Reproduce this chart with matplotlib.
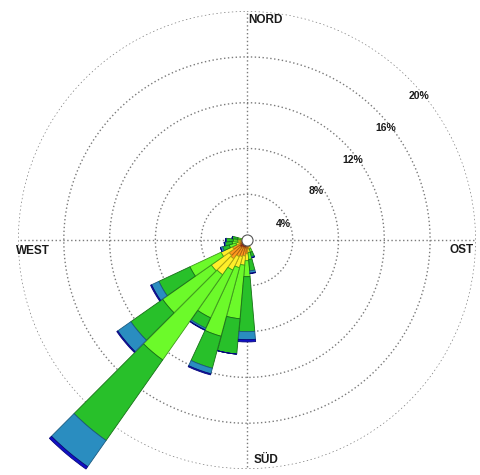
import numpy as np
import matplotlib
matplotlib.use("Agg")
import matplotlib.pyplot as plt

# Wind direction sectors (degrees, clockwise from north)
directions = [160, 170, 180, 190, 200, 210, 220, 230, 240, 250, 260, 270, 280]

# Frequency share (%) of each wind-speed class per sector
speed_lt1 = [0.3, 0.4, 0.6, 0.7, 0.7, 0.7, 0.8, 0.8, 0.6, 0.3, 0.3, 0.3, 0.2]
speed_1_2 = [0.3, 0.4, 0.6, 0.7, 0.8, 0.9, 1.2, 1.1, 0.8, 0.4, 0.3, 0.3, 0.2]
speed_2_3 = [0.2, 0.3, 0.6, 0.8, 1.0, 1.3, 1.7, 1.9, 1.1, 0.3, 0.2, 0.2, 0.1]
speed_3_4 = [0.3, 0.6, 1.4, 4.7, 6.2, 4.6, 9.1, 5.2, 3.0, 0.6, 0.5, 0.4, 0.3]
speed_4_6 = [0.4, 1.0, 4.8, 3.1, 2.9, 1.0, 8.6, 3.4, 3.0, 0.6, 0.6, 0.6, 0.5]
speed_6_8 = [0.1, 0.2, 0.7, 0.0, 0.5, 0.15, 2.8, 1.4, 0.7, 0.2, 0.1, 0.05, 0.0]
speed_gt8 = [0.0, 0.05, 0.2, 0.0, 0.1, 0.05, 0.25, 0.1, 0.1, 0.0, 0.0, 0.0, 0.0]

speed_classes = [speed_lt1, speed_1_2, speed_2_3, speed_3_4,
                 speed_4_6, speed_6_8, speed_gt8]
class_colors = ["#c8401a", "#ff9a1e", "#ffee2a", "#6cfa2a",
                "#28c02a", "#2a8dc0", "#1010c8"]
edge_colors = ["#7a2a10", "#a86010", "#a8a010", "#3c9a18",
               "#167016", "#1a5a80", "#08087a"]

ring_values = [4, 8, 12, 16, 20]
ring_labels = ["4%", "8%", "12%", "16%", "20%"]
ring_label_theta = [67, 55, 53, 51, 50]
ring_label_r = [3.5, 7.4, 11.6, 15.6, 19.6]

compass_labels = ["NORD", "OST", "SÜD", "WEST"]
compass_theta = [4.9, 92.7, 175.1, 267.1]
compass_r = [19.3, 18.8, 19.3, 18.7]

fig = plt.figure(figsize=(4.81, 4.75), dpi=100)
ax = fig.add_axes([0.0374, 0.0126, 0.952, 0.964], projection="polar")
ax.set_theta_zero_location("N")
ax.set_theta_direction(-1)
ax.set_ylim(0, 20)
ax.grid(False)
ax.spines["polar"].set_visible(False)
ax.set_xticks([])
ax.set_yticks([])
ax.patch.set_visible(False)

# dotted range rings and compass cross
grid_style = dict(color="#7a7a7a", lw=1.0, ls=(0, (1, 1.8)), zorder=1)
full = np.linspace(0, 2 * np.pi, 400)
for rv in ring_values:
    ax.plot(full, np.full_like(full, rv), **grid_style)
for ang in [0, 90, 180, 270]:
    ax.plot([np.radians(ang)] * 2, [0, 20], **grid_style)

# stacked sector bars
theta = np.radians(directions)
width = np.radians(9.8)
bottom = np.zeros(len(directions))
for vals, fc, ec in zip(speed_classes, class_colors, edge_colors):
    vals = np.asarray(vals, dtype=float)
    bars = ax.bar(theta, vals, width=width, bottom=bottom, color=fc,
                  edgecolor=ec, linewidth=0.6, zorder=3)
    for b in bars:
        b.set_clip_on(False)
    bottom += vals

# calm centre marker
ax.plot([0], [0], "o", ms=8, mfc="white", mec="#555555", mew=0.8, zorder=5,
        clip_on=False)

lab_font = dict(family="Liberation Sans", weight="bold", color="#1a1a1a")
for lab, th, r in zip(ring_labels, ring_label_theta, ring_label_r):
    ax.text(np.radians(th), r, lab, fontsize=7.5, ha="center", va="center",
            zorder=6, **lab_font)

# compass names
for lab, th, r in zip(compass_labels, compass_theta, compass_r):
    ax.text(np.radians(th), r, lab, fontsize=8.5, ha="center", va="center",
            zorder=6, **lab_font)

fig.savefig("out.png", dpi=100, facecolor="white")
